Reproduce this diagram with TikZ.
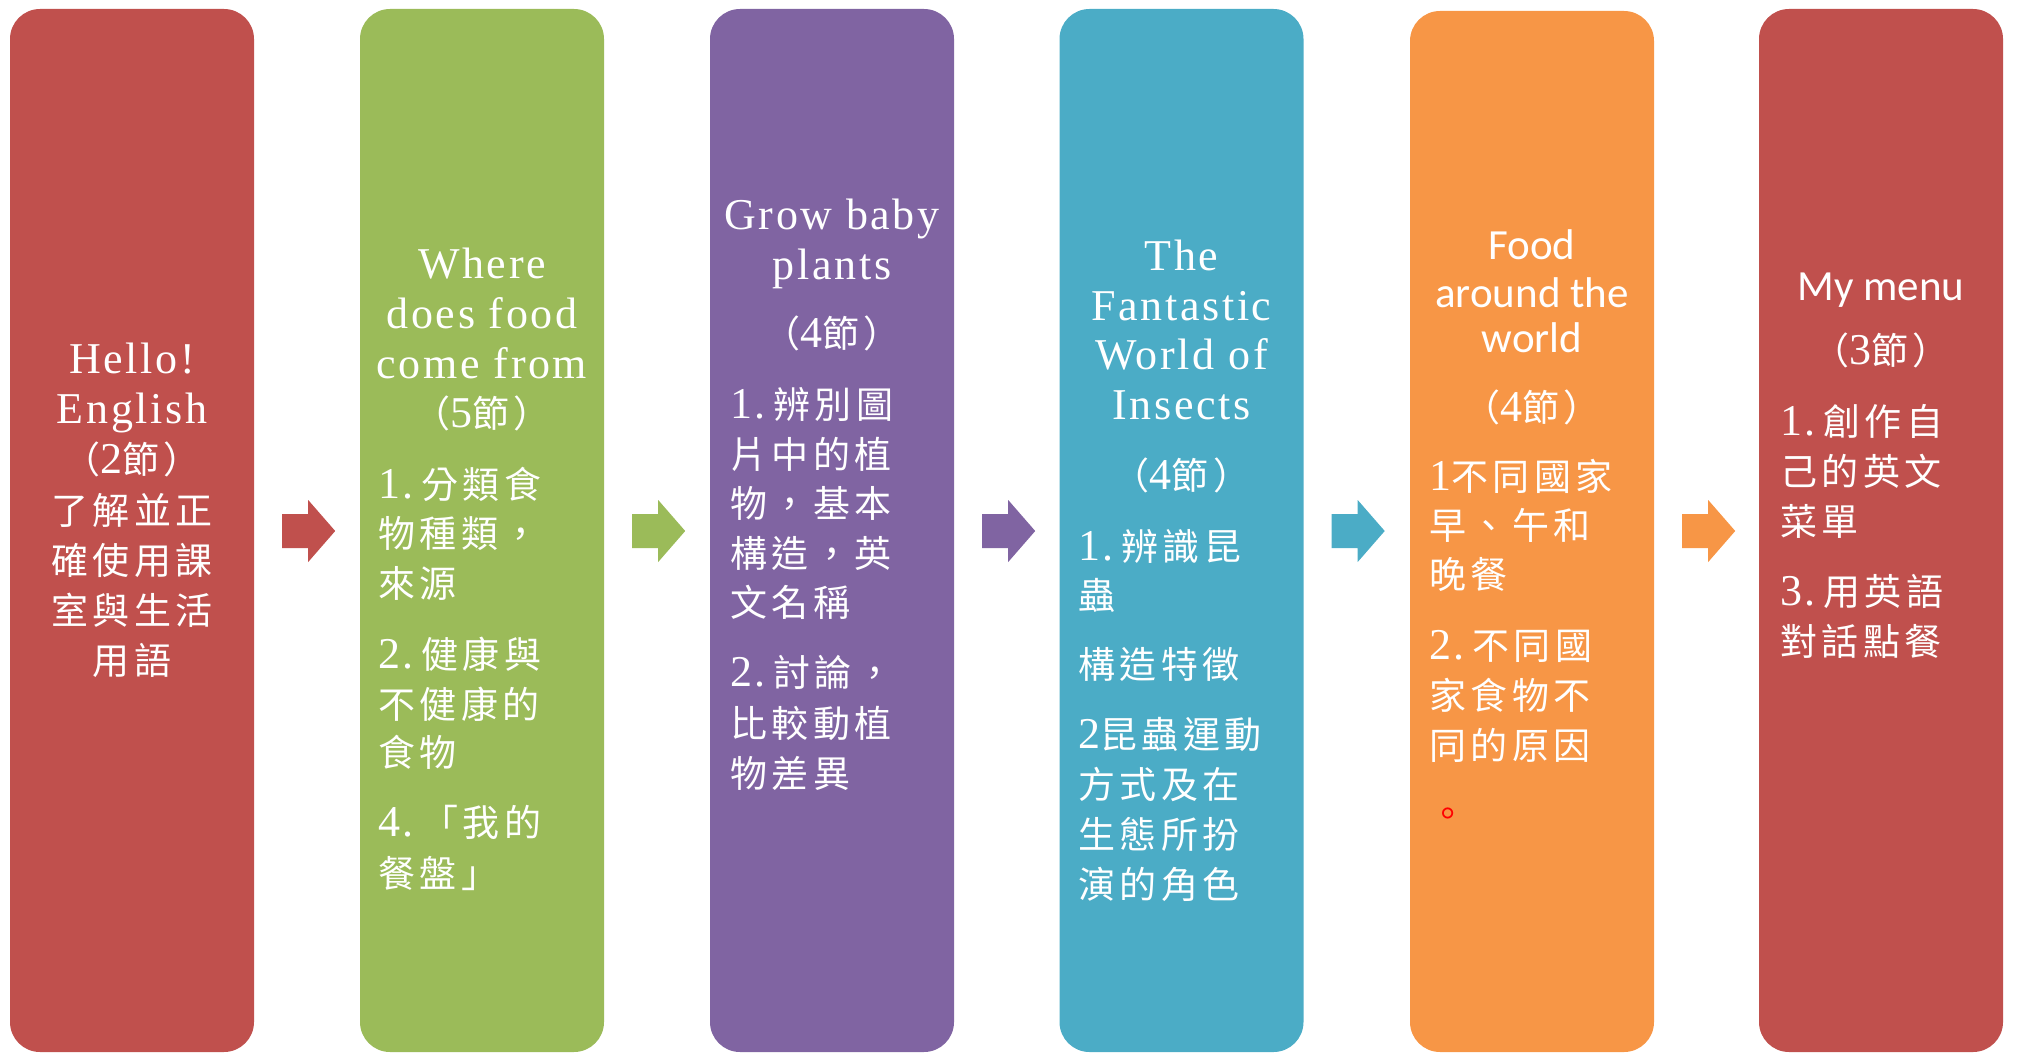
\documentclass[tikz,border=0pt]{standalone}
\usepackage{fontspec}
\setmainfont{Liberation Serif}
\newfontfamily\cjkf[LetterSpace=12]{Noto Sans CJK TC}
\newfontfamily\latf[LetterSpace=6]{Liberation Serif}
\newfontfamily\sansf{Carlito}
\newcommand\cjkt[1]{{\cjkf\fontsize{37pt}{50pt}\selectfont #1}}
\newcommand\latt[1]{{\latf\fontsize{44pt}{50pt}\selectfont #1}}
\newcommand\sanst[1]{{\sansf\fontsize{43pt}{48pt}\selectfont #1}}
\newcommand\nb[1]{\makebox[43pt][l]{\latt{#1}}}
\definecolor{cred}{HTML}{C0504D}
\definecolor{cgreen}{HTML}{9BBB59}
\definecolor{cpurple}{HTML}{8064A2}
\definecolor{cteal}{HTML}{4BACC6}
\definecolor{corange}{HTML}{F79646}
\tikzset{
  box/.style={rectangle, rounded corners=30pt, draw=none, minimum width=244pt, minimum height=1043pt, inner sep=0pt},
  txt/.style={text=white, inner sep=0pt, anchor=base},
  lft/.style={txt, anchor=base west},
  blockarr/.pic={\path[pic actions] (0,-17) -- (26,-17) -- (26,-31) -- (53,0) -- (26,31) -- (26,17) -- (0,17) -- cycle;}
}
\begin{document}
\begin{tikzpicture}[x=1pt,y=-1pt]
\useasboundingbox (0,0) rectangle (2018,1054);
% boxes
\node[box, fill=cred]    (b1) at (132,530.5)  {};
\node[box, fill=cgreen]  (b2) at (482,530.5)  {};
\node[box, fill=cpurple] (b3) at (832,530.5)  {};
\node[box, fill=cteal]   (b4) at (1181.5,530.5) {};
\node[box, fill=corange, minimum height=1041pt] (b5) at (1532,531.5) {};
\node[box, fill=cred]    (b6) at (1881,530.5) {};
% arrows
\pic[fill=cred]    at ([xshift=28pt,yshift=-0.5pt]b1.east) {blockarr};
\pic[fill=cgreen]  at ([xshift=28pt,yshift=-0.5pt]b2.east) {blockarr};
\pic[fill=cpurple] at ([xshift=28pt,yshift=-0.5pt]b3.east) {blockarr};
\pic[fill=cteal]   at ([xshift=28pt,yshift=-0.5pt]b4.east) {blockarr};
\pic[fill=corange] at ([xshift=28pt,yshift=0.5pt]b5.east) {blockarr};
% box 1
\foreach \y/\t [count=\i] in {
  359/{\latt{Hello!}}, 409/{\latt{English}}, 459/{\cjkt{（}\latt{2}\cjkt{節）}},
  510/{\cjkt{了解並正}}, 560/{\cjkt{確使用課}}, 610/{\cjkt{室與生活}}, 660/{\cjkt{用語}}}
  \node[txt] (ta\i) at (132,\y+14) {\t};
% box 2
\foreach \y/\t [count=\i] in {
  264/{\latt{Where}}, 314/{\latt{does food}}, 364/{\latt{come from}}, 413/{\cjkt{（}\latt{5}\cjkt{節）}}}
  \node[txt] (tb\i) at (482,\y+14) {\t};
\foreach \y/\t [count=\i] in {
  484/{\nb{1.}\cjkt{分類食}}, 533/{\cjkt{物種類，}}, 583/{\cjkt{來源}},
  654/{\nb{2.}\cjkt{健康與}}, 704/{\cjkt{不健康的}}, 752/{\cjkt{食物}},
  822/{\nb{4.}\cjkt{「我的}}, 873/{\cjkt{餐盤」}}}
  \node[lft] (lb\i) at (378,\y+14) {\t};
% box 3
\foreach \y/\t [count=\i] in {
  215/{\latt{Grow baby}}, 265/{\latt{plants}}, 333/{\cjkt{（}\latt{4}\cjkt{節）}}}
  \node[txt] (tc\i) at (832,\y+14) {\t};
\foreach \y/\t [count=\i] in {
  404/{\nb{1.}\cjkt{辨別圖}}, 454/{\cjkt{片中的植}}, 503/{\cjkt{物，基本}},
  553/{\cjkt{構造，英}}, 602/{\cjkt{文名稱}},
  672/{\nb{2.}\cjkt{討論，}}, 723/{\cjkt{比較動植}}, 773/{\cjkt{物差異}}}
  \node[lft] (lc\i) at (730,\y+14) {\t};
% box 4
\foreach \y/\t [count=\i] in {
  256/{\latt{The}}, 306/{\latt{Fantastic}}, 355/{\latt{World of}}, 405/{\latt{Insects}},
  475/{\cjkt{（}\latt{4}\cjkt{節）}}}
  \node[txt] (td\i) at (1181.5,\y+14) {\t};
\foreach \y/\t [count=\i] in {
  546/{\nb{1.}\cjkt{辨識昆}}, 595/{\cjkt{蟲}}, 664/{\cjkt{構造特徵}},
  734/{\latt{2}\cjkt{昆蟲運動}}, 784/{\cjkt{方式及在}}, 834/{\cjkt{生態所扮}}, 884/{\cjkt{演的角色}}}
  \node[lft] (ld\i) at (1078,\y+14) {\t};
% box 5
\foreach \y/\t [count=\i] in {
  245/{\sanst{Food}}, 293/{\sanst{around the}}, 338/{\sanst{world}},
  407/{\cjkt{（}\latt{4}\cjkt{節）}}}
  \node[txt] (te\i) at (1532,\y+14) {\t};
\foreach \y/\t [count=\i] in {
  476/{\latt{1}\cjkt{不同國家}}, 525/{\cjkt{早、午和}}, 574/{\cjkt{晚餐}},
  645/{\nb{2.}\cjkt{不同國}}, 695/{\cjkt{家食物不}}, 745/{\cjkt{同的原因}}}
  \node[lft] (le\i) at (1429,\y+14) {\t};
\node[lft, text=red] (le7) at (1429,827) {\cjkt{。}};
% box 6
\foreach \y/\t [count=\i] in {
  286/{\sanst{My menu}}, 350/{\cjkt{（}\latt{3}\cjkt{節）}}}
  \node[txt] (tf\i) at (1881,\y+14) {\t};
\foreach \y/\t [count=\i] in {
  421/{\nb{1.}\cjkt{創作自}}, 471/{\cjkt{己的英文}}, 521/{\cjkt{菜單}},
  591/{\nb{3.}\cjkt{用英語}}, 641/{\cjkt{對話點餐}}}
  \node[lft] (lf\i) at (1780,\y+14) {\t};
\end{tikzpicture}
\end{document}
